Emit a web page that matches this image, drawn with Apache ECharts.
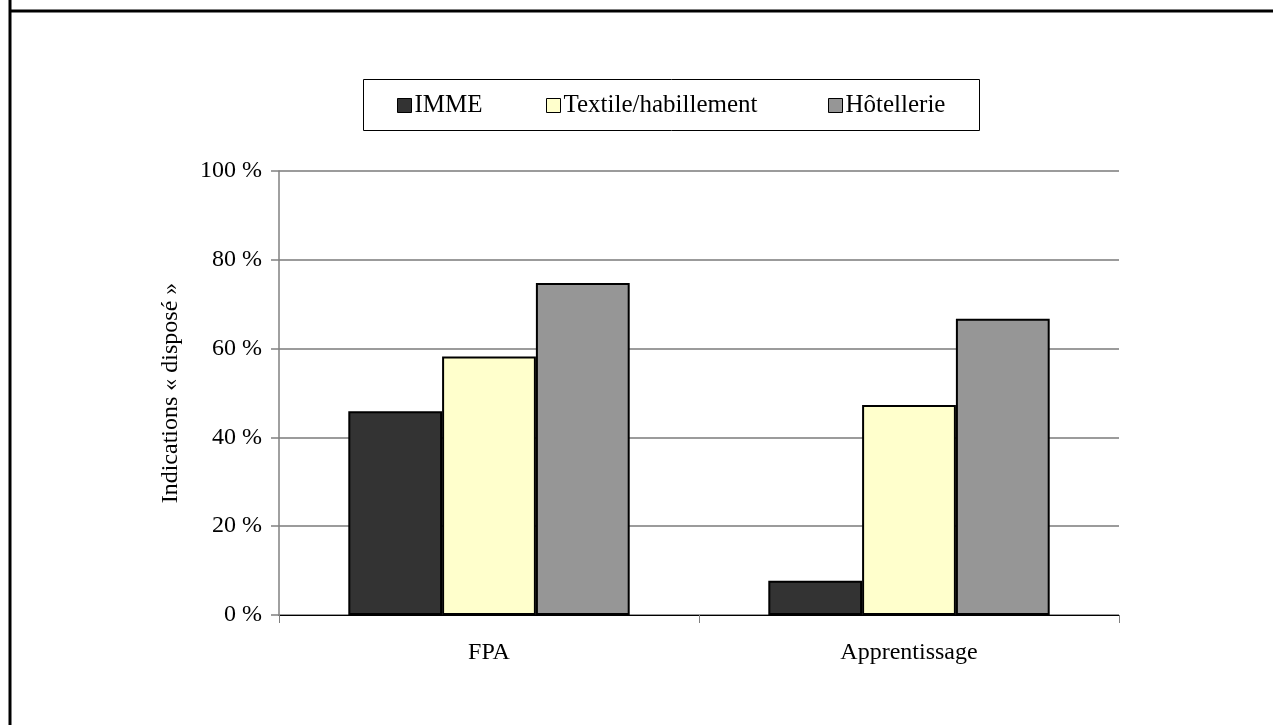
<!DOCTYPE html>
<html>
<head>
<meta charset="utf-8">
<script src="https://cdn.jsdelivr.net/npm/echarts@6/dist/echarts.min.js"></script>
<style>
html,body{margin:0;padding:0;background:#fff;}
#chart{width:1273px;height:725px;}
</style>
</head>
<body>
<div id="chart"></div>
<script>
const categories = ['FPA', 'Apprentissage'];
const seriesNames = ['IMME', 'Textile/habillement', 'Hôtellerie'];
const imme = [45.9, 7.7];
const textile = [58.2, 47.3];
const hotellerie = [74.8, 66.7];
const colors = ['#333333', '#FFFFCC', '#969696'];
const yAxisName = 'Indications « disposé »';

const FONT = '"Liberation Serif", "Times New Roman", serif';
const chart = echarts.init(document.getElementById('chart'), null, {renderer: 'canvas'});

const legendLefts = [397, 546, 828];
const legends = seriesNames.map((n, i) => ({
  data: [n],
  left: legendLefts[i],
  top: 93,
  padding: 0,
  itemWidth: 14,
  itemHeight: 14,
  itemGap: 0,
  icon: 'rect',
  itemStyle: {borderColor: '#000', borderWidth: 1},
  textStyle: {fontFamily: FONT, fontSize: 25, color: '#000', padding: [0, 0, 0, -2]},
  selectedMode: false
}));

const values = [imme, textile, hotellerie];

chart.setOption({
  animation: false,
  backgroundColor: '#fff',
  textStyle: {fontFamily: FONT},
  legend: legends,
  graphic: [
    {type: 'rect', shape: {x: 363.5, y: 79.5, width: 616, height: 51}, style: {fill: 'none', stroke: '#000', lineWidth: 1}, z: -1},
    {type: 'line', shape: {x1: 9, y1: 11, x2: 1273, y2: 11}, style: {stroke: '#000', lineWidth: 3}},
    {type: 'line', shape: {x1: 10, y1: 0, x2: 10, y2: 725}, style: {stroke: '#000', lineWidth: 3}}
  ],
  grid: {left: 279, right: 154, top: 171, bottom: 110, containLabel: false},
  xAxis: {
    type: 'category',
    data: categories,
    axisLine: {lineStyle: {color: '#000', width: 1}},
    axisTick: {show: true, length: 8, lineStyle: {color: '#808080'}},
    axisLabel: {fontFamily: FONT, fontSize: 24, color: '#000', margin: 26}
  },
  yAxis: {
    type: 'value',
    min: 0, max: 100, interval: 20,
    name: yAxisName,
    nameLocation: 'middle',
    nameGap: 96,
    nameRotate: 90,
    nameTextStyle: {fontFamily: FONT, fontSize: 24, color: '#000'},
    axisLine: {show: true, lineStyle: {color: '#808080', width: 1.5}},
    axisTick: {show: true, length: 8, lineStyle: {color: '#808080', width: 1.5}},
    axisLabel: {fontFamily: FONT, fontSize: 24, color: '#000', margin: 17, formatter: '{value} %'},
    splitLine: {show: true, lineStyle: {color: '#7a7a7a', width: 1.5}}
  },
  series: seriesNames.map((n, i) => ({
    name: n,
    type: 'bar',
    data: values[i],
    barGap: '0%',
    barCategoryGap: '33%',
    itemStyle: {color: colors[i], borderColor: '#000', borderWidth: 2}
  }))
});
</script>
</body>
</html>
